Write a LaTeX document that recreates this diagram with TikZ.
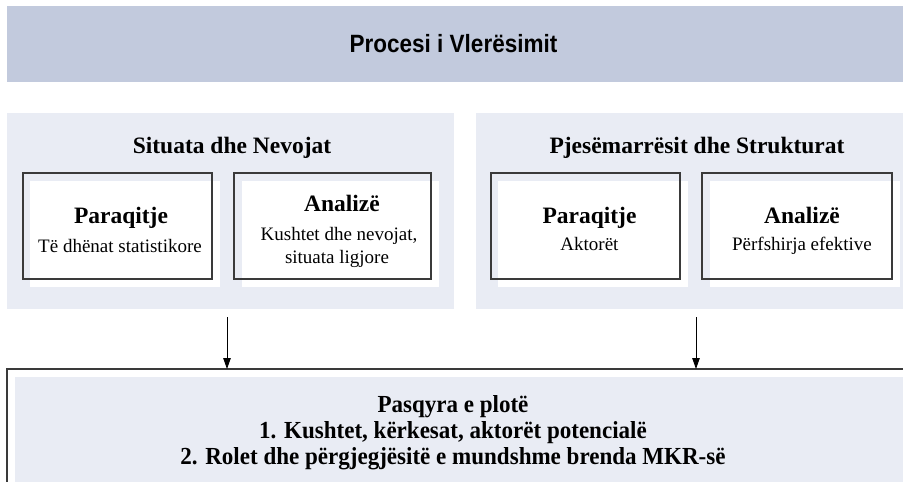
\documentclass[tikz,border=0pt]{standalone}
\usepackage{fontspec}
\setmainfont{Liberation Serif}
\newfontfamily\titlefont[FakeStretch=0.9]{Liberation Sans}
\newfontfamily\bottomfont[FakeStretch=0.94]{Liberation Serif}
\usetikzlibrary{arrows.meta}
\definecolor{barblue}{HTML}{C2CADD}
\definecolor{panelbg}{HTML}{E9ECF4}
\definecolor{edgegray}{HTML}{3A3A3A}
\tikzset{
  rectnode/.style={inner sep=0pt, outer sep=0pt, draw=none},
  barbox/.style={rectnode, fill=barblue},
  panelbox/.style={rectnode, fill=panelbg},
  whitebox/.style={rectnode, fill=white},
  outlinebox/.style={rectnode, draw=edgegray, line width=1.2pt},
  txt/.style={inner sep=0pt, anchor=base},
  headtxt/.style={txt, font=\bfseries\fontsize{23.5}{28}\selectfont},
  subtxt/.style={txt, font=\fontsize{19}{23}\selectfont},
  bottxt/.style={txt, font=\bottomfont\bfseries\fontsize{24.5}{29}\selectfont},
  arr/.style={draw=black, line width=0.9pt, -{Triangle[length=11pt,width=7.5pt]}}
}
\begin{document}
\begin{tikzpicture}[x=1pt,y=-1pt]
\useasboundingbox (0,0) rectangle (903,482);
\clip (0,0) rectangle (903,482);
% title bar
\node[barbox, minimum width=900pt, minimum height=76pt] (bar) at (457,44) {};
\node[txt, font=\titlefont\bfseries\fontsize{25}{30}\selectfont] (title) at (453.5,52) {Procesi i Vlerësimit};
% panels
\node[panelbox, minimum width=447pt, minimum height=196pt] (panelL) at (230.5,211) {};
\node[panelbox, minimum width=440pt, minimum height=196pt] (panelR) at (696,211) {};
\node[headtxt] (headL) at (232,153) {Situata dhe Nevojat};
\node[headtxt] (headR) at (697,153) {Pjesëmarrësit dhe Strukturat};
% white offsets
\node[whitebox, minimum width=190pt, minimum height=106pt] (wL1) at (125,234) {};
\node[whitebox, minimum width=197pt, minimum height=106pt] (wL2) at (340.5,234) {};
\node[whitebox, minimum width=190pt, minimum height=106pt] (wR1) at (593,234) {};
\node[whitebox, minimum width=190pt, minimum height=106pt] (wR2) at (805,234) {};
% outlines
\node[outlinebox, minimum width=189pt, minimum height=106pt] (bL1) at (117.5,226) {};
\node[outlinebox, minimum width=197pt, minimum height=106pt] (bL2) at (332.5,226) {};
\node[outlinebox, minimum width=189pt, minimum height=106pt] (bR1) at (585.5,226) {};
\node[outlinebox, minimum width=190pt, minimum height=106pt] (bR2) at (797,226) {};
% box texts
\node[headtxt] (tL1a) at (121,223) {Paraqitje};
\node[subtxt] (tL1b) at (120,252) {Të dhënat statistikore};
\node[headtxt] (tL2a) at (342,211) {Analizë};
\node[subtxt] (tL2b) at (339,240) {Kushtet dhe nevojat,};
\node[subtxt] (tL2c) at (337,263) {situata ligjore};
\node[headtxt] (tR1a) at (589.5,223) {Paraqitje};
\node[subtxt] (tR1b) at (589.5,250) {Aktorët};
\node[headtxt] (tR2a) at (802,223) {Analizë};
\node[subtxt] (tR2b) at (802,250) {Përfshirja efektive};
% bottom box
\node[outlinebox, minimum width=910pt, minimum height=140pt] (bottom) at (462,439) {};
\node[panelbox, minimum width=900pt, minimum height=130pt] (bottomfill) at (465,442) {};
\node[bottxt] (p1) at (453,412) {Pasqyra e plotë};
\node[bottxt] (p2) at (453,438) {1. Kushtet, kërkesat, aktorët potencialë};
\node[bottxt] (p3) at (453,464) {2. Rolet dhe përgjegjësitë e mundshme brenda MKR-së};
% arrows
\coordinate (a1) at (227,317);
\coordinate (a2) at (696,317);
\draw[arr] (a1) -- (a1 |- bottom.north);
\draw[arr] (a2) -- (a2 |- bottom.north);
\end{tikzpicture}
\end{document}
